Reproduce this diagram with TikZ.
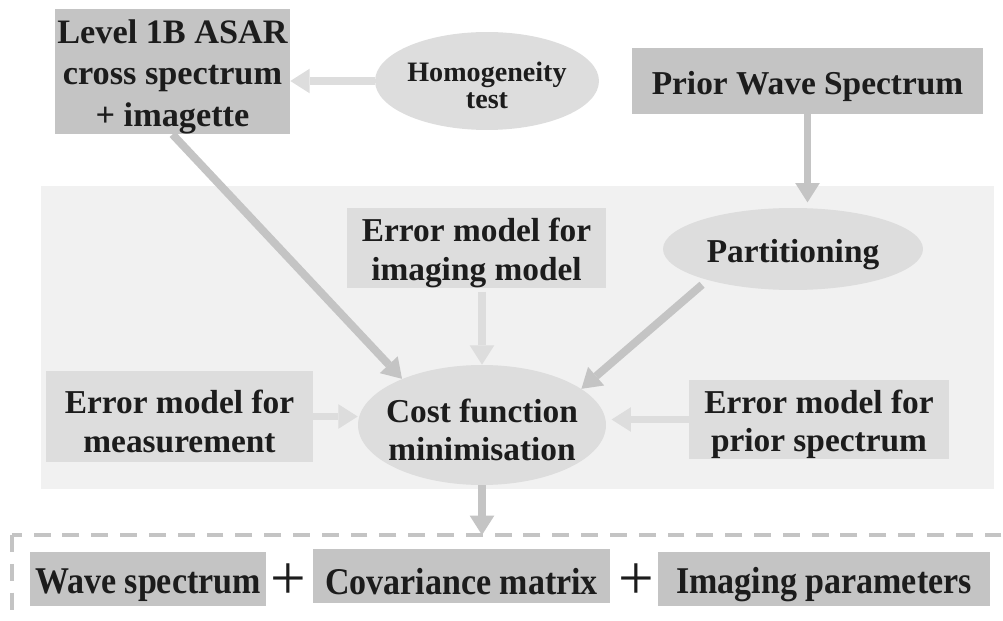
\documentclass[tikz,border=0pt]{standalone}
\usepackage{fontspec}
\usepackage{graphicx}
\setmainfont{Liberation Serif}
\usetikzlibrary{arrows.meta, shapes.geometric}

\definecolor{boxdark}{HTML}{C4C4C4}
\definecolor{boxlight}{HTML}{DDDDDD}
\definecolor{panel}{HTML}{F1F1F1}
\definecolor{ink}{HTML}{1C1C1C}

\newcommand{\mainsize}{\fontsize{19pt}{21.8pt}\selectfont\bfseries}
\newcommand{\outsize}{\fontsize{21.5pt}{24pt}\selectfont\bfseries}
% taller first line, so the text block sits a little low in its shape
\newcommand{\topgap}{\rule{0pt}{1em}}

\tikzset{
    darkbox/.style = {rectangle, fill = boxdark, inner sep = 0pt, align = center,
        text = ink, font = \mainsize},
    lightbox/.style = {darkbox, fill = boxlight},
    blob/.style = {ellipse, fill = boxlight, inner xsep = -0.3cm, inner ysep = 0pt,
        align = center, text = ink, font = \mainsize},
    plus/.style = {inner sep = 0pt, text = ink, font = \fontsize{36pt}{36pt}\selectfont},
    flow/.style = {line width = 4.5pt,
        -{Triangle[width = 14pt, length = 11pt, line width = 0pt]}},
    darkflow/.style = {flow, draw = boxdark},
    lightflow/.style = {flow, draw = boxlight}
}

\begin{document}
\begin{tikzpicture}[x = 0.02cm, y = -0.02cm]
    \useasboundingbox (0, 0) rectangle (1003, 621);

    % shaded panel round the retrieval step
    \fill [panel] (41, 186) rectangle (994, 489);

    \node [darkbox, minimum width = 4.7cm, minimum height = 2.5cm,
        font = \fontsize{19.5pt}{23.6pt}\selectfont\bfseries] (level) at (172.5, 71.5)
        {\topgap Level 1B ASAR\\cross spectrum\\+ imagette};
    \node [blob, minimum width = 4.48cm, minimum height = 1.96cm,
        font = \fontsize{16pt}{15pt}\selectfont\bfseries] (homog) at (487, 81)
        {\topgap Homogeneity\\test};
    \node [darkbox, minimum width = 7.02cm, minimum height = 1.32cm] (prior) at (807.5, 81)
        {\topgap Prior Wave Spectrum};

    \node [lightbox, minimum width = 5.18cm, minimum height = 1.6cm] (imgerr) at (476.5, 248)
        {\topgap Error model for\\imaging model};
    \node [blob, minimum width = 5.2cm, minimum height = 1.64cm] (part) at (793, 249)
        {\topgap Partitioning};
    \node [lightbox, minimum width = 5.34cm, minimum height = 1.82cm] (measerr) at (179.5, 416.5)
        {\topgap Error model for\\measurement};
    \node [blob, minimum width = 4.96cm, minimum height = 2.4cm] (cost) at (482, 425)
        {\topgap Cost function\\minimisation};
    \node [lightbox, minimum width = 5.2cm, minimum height = 1.58cm] (priorerr) at (819, 419.5)
        {\topgap Error model for\\prior spectrum};

    % output frame, open to the right and below
    \coordinate (framecorner) at (12, 535);
    \draw [boxdark, line width = 2.3pt, dash pattern = on 9.6pt off 6.8pt]
        (framecorner) rectangle (1030, 660);

    \node [darkbox, minimum width = 4.72cm, minimum height = 1.08cm, font = \outsize]
        (wave) at (148, 579) {\topgap\scalebox{0.9}[1]{Wave spectrum}};
    \node [plus] (plusa) at (288, 582) {+};
    \node [darkbox, minimum width = 5.94cm, minimum height = 1.08cm, font = \outsize]
        (covar) at (461.5, 576) {\topgap\scalebox{0.9}[1]{Covariance matrix}};
    \node [plus] (plusb) at (636, 582) {+};
    \node [darkbox, minimum width = 6.64cm, minimum height = 1.08cm, font = \outsize]
        (imgpar) at (824, 579) {\topgap\scalebox{0.9}[1]{Imaging parameters}};

    % connectors
    \draw [lightflow] (homog.west) -- (homog.west -| level.east);
    \draw [darkflow, shorten > = 3pt] (prior.south) -- (prior.south |- part.north);
    \draw [darkflow] (level.south) -- (cost.150);
    \draw [darkflow, shorten < = 4pt] (part.200) -- (cost.20);
    \draw [lightflow, shorten < = 2pt] (cost.north |- imgerr.south) -- (cost.north);
    \draw [lightflow] (measerr.east) -- (measerr.east -| cost.west);
    \draw [lightflow, shorten > = 3pt] (priorerr.west) -- (priorerr.west -| cost.east);
    \draw [darkflow] (cost.south) -- (cost.south |- framecorner);
\end{tikzpicture}
\end{document}
